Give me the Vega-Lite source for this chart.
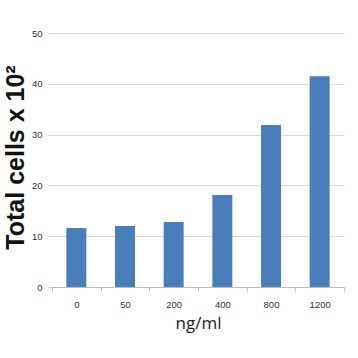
{
  "$schema": "https://vega.github.io/schema/vega-lite/v6.json",
  "width": 292,
  "height": 254,
  "autosize": {"type": "none"},
  "padding": {"left": 52, "top": 33, "right": 14, "bottom": 71},
  "background": "white",
  "data": {"values": [
    {"dose": "0", "cells": 11.6},
    {"dose": "50", "cells": 12.0},
    {"dose": "200", "cells": 12.8},
    {"dose": "400", "cells": 18.1},
    {"dose": "800", "cells": 31.9},
    {"dose": "1200", "cells": 41.5}
  ]},
  "config": {"view": {"stroke": null}, "font": "Liberation Sans"},
  "mark": {"type": "bar", "color": "#4a7ebb", "width": 20},
  "encoding": {
    "x": {
      "field": "dose", "type": "nominal", "sort": null,
      "scale": {"paddingInner": 0, "paddingOuter": 0},
      "axis": {
        "title": "ng/ml", "titleFontSize": 17, "titleFontWeight": "normal", "titleFont": "Open Sans", "titleColor": "#222",
        "titlePadding": 7,
        "labelAngle": 0, "labelFontSize": 9.5, "labelColor": "#333", "labelPadding": 8,
        "domainColor": "#bbb", "tickColor": "#bbb", "tickBand": "extent", "tickSize": 4, "grid": false
      }
    },
    "y": {
      "field": "cells", "type": "quantitative",
      "scale": {"domain": [0, 50]},
      "axis": {
        "title": "Total cells x 10²", "titleFontSize": 25, "titleFontWeight": "bold", "titleColor": "#111", "titleFont": "Liberation Sans",
        "titlePadding": 3, "titleY": 124,
        "values": [0, 10, 20, 30, 40, 50], "labelFontSize": 9.5, "labelColor": "#333", "labelPadding": 6,
        "domain": false, "ticks": true, "tickSize": 4, "tickColor": "#ccc",
        "grid": true, "gridColor": "#d9d9d9"
      }
    }
  }
}
